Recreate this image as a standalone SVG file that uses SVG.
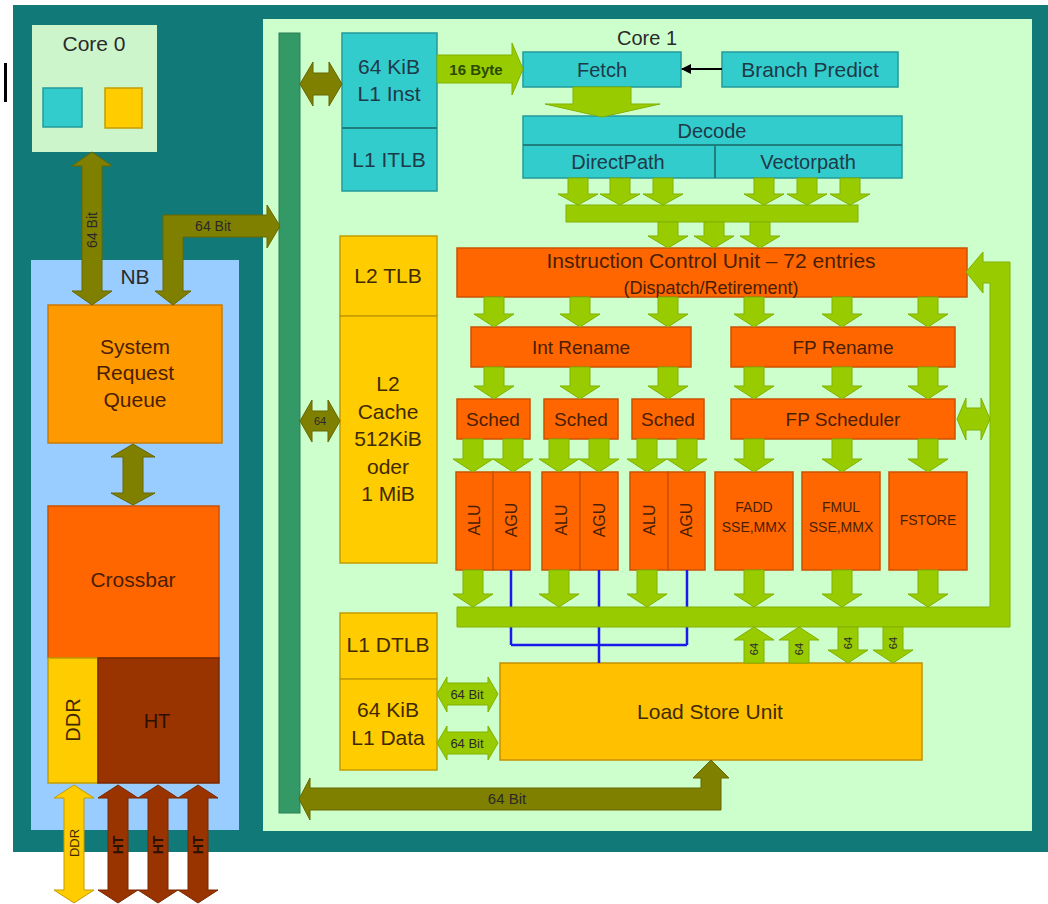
<svg xmlns="http://www.w3.org/2000/svg" width="1048" height="904" viewBox="0 0 1048 904">
<defs>
<style>
text{font-family:"Liberation Sans",Arial,sans-serif;text-anchor:middle;fill:#2a2a2a}
.f21{font-size:21px}.f20{font-size:20px}.f19{font-size:19px}.f18{font-size:18px}.f16{font-size:16px}.f15{font-size:15px}.f14{font-size:14px}.f13{font-size:13px}.f12{font-size:12px}.f11{font-size:11px}
.b{font-weight:bold}
.tc{fill:#1e3a48}.to{fill:#4a1e00}.ty{fill:#3f2a00}
.cy{fill:#33cccc;stroke:#259a9a;stroke-width:1.5}
.ye{fill:#ffcc00;stroke:#c49c00;stroke-width:1.5}
.ls{fill:#ffc000;stroke:#c49000;stroke-width:1.5}
.or{fill:#ff6600;stroke:#cc5200;stroke-width:1.5}
.lg{fill:#99cc00;stroke:#82b000;stroke-width:1}
.ol{fill:#808000;stroke:#666600;stroke-width:1}
</style>
<marker id="ah" viewBox="0 0 10 10" refX="9" refY="5" markerWidth="10" markerHeight="10" markerUnits="userSpaceOnUse" orient="auto">
<path d="M0,0 L10,5 L0,10 Z" fill="#000"/>
</marker>
</defs>
<rect x="0" y="0" width="1048" height="904" fill="#ffffff"/>
<rect x="13" y="5" width="1035" height="847" fill="#117a79"/>
<rect x="4" y="63" width="3" height="39" fill="#000"/>

<g id="core0">
<rect x="32" y="25" width="125" height="127" fill="#ccf5cc"/>
<text x="94" y="51" class="f21">Core 0</text>
<rect x="43" y="88" width="39" height="39" class="cy"/>
<rect x="105" y="88" width="37" height="40" class="ye"/>
</g>

<g id="core1">
<rect x="263" y="19" width="769" height="812" fill="#ccffcc"/>
<text x="647" y="45" class="f20">Core 1</text>
</g>

<g id="bus">
<rect x="279" y="33" width="21" height="780" fill="#339966" stroke="#2a7f55" stroke-width="1"/>
</g>

<g id="nb">
<rect x="31" y="260" width="208" height="570" fill="#99ccff"/>
<text x="135" y="284" class="f21">NB</text>
</g>

<g id="srq">
<rect x="48" y="305" width="174" height="138" fill="#ff9900" stroke="#cc7a00" stroke-width="1.5"/>
<text x="135" y="354" class="f21 to">System</text>
<text x="135" y="380" class="f21 to">Request</text>
<text x="135" y="407" class="f21 to">Queue</text>
</g>

<g id="crossbar">
<rect x="48" y="506" width="171" height="152" class="or"/>
<text x="133" y="587" class="f21 to">Crossbar</text>
</g>

<g id="ddr">
<rect x="48" y="658" width="50" height="125" class="ye"/>
<text transform="translate(73,720) rotate(-90)" y="7" class="f20 ty">DDR</text>
</g>

<g id="ht">
<rect x="98" y="658" width="121" height="125" fill="#993300" stroke="#7a2800" stroke-width="1.5"/>
<text x="157" y="728" class="f20" style="fill:#2a1000">HT</text>
</g>

<g id="l1inst">
<rect x="342" y="33" width="95" height="158" class="cy"/>
<line x1="342" y1="128" x2="437" y2="128" stroke="#1f7f7f" stroke-width="2"/>
<text x="389" y="74" class="f21 tc">64 KiB</text>
<text x="389" y="101" class="f21 tc">L1 Inst</text>
<text x="389" y="167" class="f21 tc">L1 ITLB</text>
</g>

<g id="fetch">
<rect x="523" y="52" width="158" height="35" class="cy"/>
<text x="602" y="77" class="f20 tc">Fetch</text>
</g>

<g id="branch">
<rect x="722" y="52" width="176" height="35" class="cy"/>
<text x="810" y="77" class="f21 tc">Branch Predict</text>
</g>

<g id="decode">
<rect x="523" y="116" width="379" height="62" class="cy"/>
<line x1="523" y1="145" x2="902" y2="145" stroke="#1f7f7f" stroke-width="2"/>
<line x1="715" y1="145" x2="715" y2="178" stroke="#1f7f7f" stroke-width="2"/>
<text x="712" y="138" class="f20 tc">Decode</text>
<text x="618" y="169" class="f20 tc">DirectPath</text>
<text x="808" y="169" class="f20 tc">Vectorpath</text>
</g>

<g id="icu">
<rect x="457" y="248" width="510" height="49" class="or"/>
<text x="711" y="268" class="f21 to">Instruction Control Unit – 72 entries</text>
<text x="711" y="294" class="f18 to">(Dispatch/Retirement)</text>
</g>

<g id="intrename">
<rect x="471" y="327" width="220" height="40" class="or"/>
<text x="581" y="354" class="f19 to">Int Rename</text>
</g>
<g id="fprename">
<rect x="731" y="327" width="224" height="40" class="or"/>
<text x="843" y="354" class="f19 to">FP Rename</text>
</g>

<g id="sched1">
<rect x="457" y="399" width="73" height="40" class="or"/>
<text x="493" y="426" class="f19 to">Sched</text>
</g>
<g id="sched2">
<rect x="544" y="399" width="74" height="40" class="or"/>
<text x="581" y="426" class="f19 to">Sched</text>
</g>
<g id="sched3">
<rect x="632" y="399" width="72" height="40" class="or"/>
<text x="668" y="426" class="f19 to">Sched</text>
</g>
<g id="fpsched">
<rect x="731" y="399" width="224" height="40" class="or"/>
<text x="843" y="426" class="f19 to">FP Scheduler</text>
</g>

<g id="alu1"><rect x="456" y="472" width="37" height="98" class="or"/><text transform="translate(474,520) rotate(-90)" y="6" class="f16 to">ALU</text></g>
<g id="agu1"><rect x="493" y="472" width="37" height="98" class="or"/><text transform="translate(511,520) rotate(-90)" y="6" class="f16 to">AGU</text></g>
<g id="alu2"><rect x="542" y="472" width="38" height="98" class="or"/><text transform="translate(561,520) rotate(-90)" y="6" class="f16 to">ALU</text></g>
<g id="agu2"><rect x="580" y="472" width="38" height="98" class="or"/><text transform="translate(599,520) rotate(-90)" y="6" class="f16 to">AGU</text></g>
<g id="alu3"><rect x="630" y="472" width="38" height="98" class="or"/><text transform="translate(649,520) rotate(-90)" y="6" class="f16 to">ALU</text></g>
<g id="agu3"><rect x="668" y="472" width="37" height="98" class="or"/><text transform="translate(686,520) rotate(-90)" y="6" class="f16 to">AGU</text></g>
<g id="fadd"><rect x="715" y="472" width="78" height="98" class="or"/><text x="754" y="512" class="f14 to">FADD</text><text x="754" y="532" class="f14 to">SSE,MMX</text></g>
<g id="fmul"><rect x="802" y="472" width="78" height="98" class="or"/><text x="841" y="512" class="f14 to">FMUL</text><text x="841" y="532" class="f14 to">SSE,MMX</text></g>
<g id="fstore"><rect x="889" y="472" width="78" height="98" class="or"/><text x="928" y="525" class="f14 to">FSTORE</text></g>

<g id="l2">
<rect x="340" y="236" width="97" height="80" class="ye"/>
<rect x="340" y="316" width="97" height="247" class="ye"/>
<text x="388" y="283" class="f21 ty">L2 TLB</text>
<text x="388" y="391" class="f21 ty">L2</text>
<text x="388" y="419" class="f21 ty">Cache</text>
<text x="388" y="446" class="f21 ty">512KiB</text>
<text x="388" y="474" class="f21 ty">oder</text>
<text x="388" y="501" class="f21 ty">1 MiB</text>
</g>

<g id="l1data">
<rect x="340" y="613" width="97" height="66" class="ye"/>
<rect x="340" y="679" width="97" height="91" class="ye"/>
<text x="388" y="652" class="f21 ty">L1 DTLB</text>
<text x="388" y="717" class="f21 ty">64 KiB</text>
<text x="388" y="745" class="f21 ty">L1 Data</text>
</g>

<g id="lsu">
<rect x="500" y="663" width="422" height="97" class="ls"/>
<text x="710" y="719" class="f21 ty">Load Store Unit</text>
</g>

<g id="connectors">
<path d="M511,570 V645 M599,570 V663 M687,570 V645 M511,645 H687" fill="none" stroke="#1a1aee" stroke-width="2.5"/>

<polygon class="ol" points="92,152 112,166 102,166 102,291 112,291 92,305 72,291 82,291 82,166 72,166"/>
<text transform="translate(92,230) rotate(-90)" y="5" class="f14">64 Bit</text>
<polygon class="ol" points="163,215 267,215 267,205 280,226 267,248 267,237 183,237 183,291 191,291 173,305 155,291 163,291"/>
<text x="213" y="231" class="f14">64 Bit</text>
<polygon class="ol" points="133,444 155,457 143,457 143,493 155,493 133,505 111,493 123,493 123,457 111,457"/>
<polygon class="ol" points="300,84 313,62 313,73 329,73 329,62 342,84 329,106 329,95 313,95 313,106"/>
<polygon class="ol" points="300,421 312,400 312,411 328,411 328,400 340,421 328,442 328,431 312,431 312,442"/>
<text x="320" y="425" class="f11">64</text>
<polygon class="ol" points="711,760 729,778 721,778 721,810 310,810 310,820 299,799 310,778 310,788 701,788 701,778 693,778"/>
<text x="507" y="804" class="f15">64 Bit</text>

<polygon fill="#ffcc00" stroke="#c49c00" stroke-width="1" points="74,785 94,798 84,798 84,890 94,890 74,903 54,890 64,890 64,798 54,798"/>
<text transform="translate(74,843) rotate(-90)" y="5" class="f13 ty">DDR</text>
<polygon fill="#993300" stroke="#7a2800" stroke-width="1" points="118,785 138,798 128,798 128,890 138,890 118,903 98,890 108,890 108,798 98,798"/>
<polygon fill="#993300" stroke="#7a2800" stroke-width="1" points="158,785 178,798 168,798 168,890 178,890 158,903 138,890 148,890 148,798 138,798"/>
<polygon fill="#993300" stroke="#7a2800" stroke-width="1" points="198,785 218,798 208,798 208,890 218,890 198,903 178,890 188,890 188,798 178,798"/>
<text transform="translate(118,845) rotate(-90)" y="5" class="f14 b" style="fill:#2a1000">HT</text>
<text transform="translate(158,845) rotate(-90)" y="5" class="f14 b" style="fill:#2a1000">HT</text>
<text transform="translate(198,845) rotate(-90)" y="5" class="f14 b" style="fill:#2a1000">HT</text>

<polygon class="lg" points="437,55 512,55 512,43 523,69 512,95 512,83 437,83"/>
<text x="476" y="75" class="f15 b" style="fill:#2a4a00">16 Byte</text>
<line x1="722" y1="69" x2="682" y2="69" stroke="#000" stroke-width="2" marker-end="url(#ah)"/>
<polygon class="lg" points="573,87 631,87 631,104 660,104 602,117 545,104 573,104"/>

<polygon class="lg" points="568,178 588,178 588,194 598,194 578,205 558,194 568,194"/>
<polygon class="lg" points="610,178 630,178 630,194 640,194 620,205 600,194 610,194"/>
<polygon class="lg" points="653,178 673,178 673,194 683,194 663,205 643,194 653,194"/>
<polygon class="lg" points="754,178 774,178 774,194 784,194 764,205 744,194 754,194"/>
<polygon class="lg" points="797,178 817,178 817,194 827,194 807,205 787,194 797,194"/>
<polygon class="lg" points="840,178 860,178 860,194 870,194 850,205 830,194 840,194"/>
<rect class="lg" x="566" y="205" width="292" height="17"/>
<polygon class="lg" points="658,222 678,222 678,236 688,236 668,248 648,236 658,236"/>
<polygon class="lg" points="704,222 724,222 724,236 734,236 714,248 694,236 704,236"/>
<polygon class="lg" points="750,222 770,222 770,236 780,236 760,248 740,236 750,236"/>

<polygon class="lg" points="484,297 504,297 504,314 514,314 494,327 474,314 484,314"/>
<polygon class="lg" points="570,297 590,297 590,314 600,314 580,327 560,314 570,314"/>
<polygon class="lg" points="658,297 678,297 678,314 688,314 668,327 648,314 658,314"/>
<polygon class="lg" points="744,297 764,297 764,314 774,314 754,327 734,314 744,314"/>
<polygon class="lg" points="832,297 852,297 852,314 862,314 842,327 822,314 832,314"/>
<polygon class="lg" points="918,297 938,297 938,314 948,314 928,327 908,314 918,314"/>

<polygon class="lg" points="484,367 504,367 504,386 514,386 494,399 474,386 484,386"/>
<polygon class="lg" points="570,367 590,367 590,386 600,386 580,399 560,386 570,386"/>
<polygon class="lg" points="658,367 678,367 678,386 688,386 668,399 648,386 658,386"/>
<polygon class="lg" points="744,367 764,367 764,386 774,386 754,399 734,386 744,386"/>
<polygon class="lg" points="832,367 852,367 852,386 862,386 842,399 822,386 832,386"/>
<polygon class="lg" points="918,367 938,367 938,386 948,386 928,399 908,386 918,386"/>

<polygon class="lg" points="463,439 483,439 483,459 493,459 473,472 453,459 463,459"/>
<polygon class="lg" points="503,439 523,439 523,459 533,459 513,472 493,459 503,459"/>
<polygon class="lg" points="549,439 569,439 569,459 579,459 559,472 539,459 549,459"/>
<polygon class="lg" points="589,439 609,439 609,459 619,459 599,472 579,459 589,459"/>
<polygon class="lg" points="637,439 657,439 657,459 667,459 647,472 627,459 637,459"/>
<polygon class="lg" points="677,439 697,439 697,459 707,459 687,472 667,459 677,459"/>
<polygon class="lg" points="744,439 764,439 764,459 774,459 754,472 734,459 744,459"/>
<polygon class="lg" points="832,439 852,439 852,459 862,459 842,472 822,459 832,459"/>
<polygon class="lg" points="918,439 938,439 938,459 948,459 928,472 908,459 918,459"/>

<polygon class="lg" points="957,419 966,398 966,408 981,408 981,398 990,419 981,440 981,430 966,430 966,440"/>

<polygon class="lg" points="463,570 483,570 483,594 493,594 473,607 453,594 463,594"/>
<polygon class="lg" points="549,570 569,570 569,594 579,594 559,607 539,594 549,594"/>
<polygon class="lg" points="637,570 657,570 657,594 667,594 647,607 627,594 637,594"/>
<polygon class="lg" points="744,570 764,570 764,594 774,594 754,607 734,594 744,594"/>
<polygon class="lg" points="832,570 852,570 852,594 862,594 842,607 822,594 832,594"/>
<polygon class="lg" points="918,570 938,570 938,594 948,594 928,607 908,594 918,594"/>

<polygon class="lg" points="457,607 990,607 990,283 983,283 983,293 966,272 983,252 983,262 1010,262 1010,627 457,627"/>

<polygon class="lg" points="754,627 774,640 764,640 764,663 744,663 744,640 734,640"/>
<polygon class="lg" points="799,627 819,640 809,640 809,663 789,663 789,640 779,640"/>
<polygon class="lg" points="838,627 858,627 858,650 868,650 848,663 828,650 838,650"/>
<polygon class="lg" points="883,627 903,627 903,650 913,650 893,663 873,650 883,650"/>
<text transform="translate(754,649) rotate(-90)" y="4" class="f11">64</text>
<text transform="translate(799,649) rotate(-90)" y="4" class="f11">64</text>
<text transform="translate(848,643) rotate(-90)" y="4" class="f11">64</text>
<text transform="translate(893,643) rotate(-90)" y="4" class="f11">64</text>

<polygon class="lg" points="437,694 447,677 447,683 488,683 488,677 498,694 488,712 488,705 447,705 447,712"/>
<polygon class="lg" points="437,743 447,726 447,732 488,732 488,726 498,743 488,760 488,754 447,754 447,760"/>
<text x="467" y="699" class="f13">64 Bit</text>
<text x="467" y="748" class="f13">64 Bit</text>
</g>
</svg>
